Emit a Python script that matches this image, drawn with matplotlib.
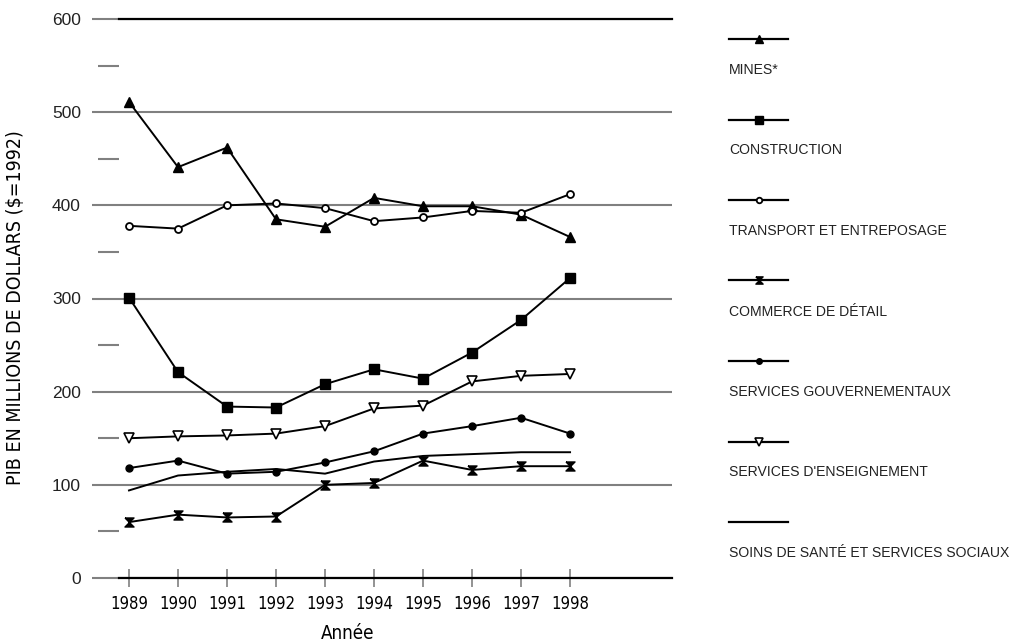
import matplotlib
matplotlib.use("Agg")
import matplotlib.pyplot as plt
from matplotlib.lines import Line2D
import numpy as np

annees = [1989, 1990, 1991, 1992, 1993, 1994, 1995, 1996, 1997, 1998]

mines = [511, 441, 462, 385, 377, 408, 399, 399, 390, 366]
construction = [301, 221, 184, 183, 208, 224, 214, 242, 277, 322]
transport = [378, 375, 400, 402, 397, 383, 387, 394, 392, 412]
commerce = [60, 68, 65, 66, 100, 102, 126, 116, 120, 120]
gouvernement = [118, 126, 112, 114, 124, 136, 155, 163, 172, 155]
enseignement = [150, 152, 153, 155, 163, 182, 185, 211, 217, 219]
sante = [94, 110, 114, 117, 112, 125, 131, 133, 135, 135]

noms = ["MINES*", "CONSTRUCTION", "TRANSPORT ET ENTREPOSAGE",
        "COMMERCE DE DÉTAIL", "SERVICES GOUVERNEMENTAUX",
        "SERVICES D'ENSEIGNEMENT", "SOINS DE SANTÉ ET SERVICES SOCIAUX"]
series = [mines, construction, transport, commerce, gouvernement, enseignement, sante]

# sablier (marqueur commerce)
sablier = [(-1, 1), (1, 1), (-1, -1), (1, -1), (-1, 1)]

styles = [
    dict(marker="^", ms=7, mfc="black"),
    dict(marker="s", ms=7, mfc="black"),
    dict(marker="o", ms=5, mfc="white", mew=1.3),
    dict(marker=sablier, ms=6.5, mfc="black"),
    dict(marker="o", ms=5, mfc="black"),
    dict(marker="v", ms=6.5, mfc="white", mew=1.2),
    dict(marker="None"),
]

gris = "#808080"
etroit = dict(family=["Liberation Sans Narrow", "DejaVu Sans"], stretch="condensed")

fig = plt.figure(figsize=(10.19, 6.43), dpi=100)
ax = fig.add_axes([119/1019, 65/643, 553/1019, 559/643])

for vals, st in zip(series, styles):
    ax.plot(annees, vals, color="black", lw=1.4, mec="black", **st)

ax.set_xlim(1988.796, 2000.08)
ax.set_ylim(0, 600)

ax.set_yticks(range(0, 601, 100))
ax.set_yticks(range(50, 600, 100), minor=True)
ax.yaxis.grid(True, which="major", color=gris, lw=1.5)
ax.set_axisbelow(True)
ax.tick_params(axis="y", which="major", direction="out", length=19.4, width=1.5,
               color=gris, pad=8, labelsize=12.5)
ax.tick_params(axis="y", which="minor", direction="out", length=15, width=1.5,
               color=gris)
for lab in ax.get_yticklabels():
    lab.set_family(["Liberation Sans", "DejaVu Sans"])
    lab.set_color("#222222")

ax.set_xticks(annees)
ax.tick_params(axis="x", direction="inout", length=13, width=1.2, color=gris, pad=6)
for lab in ax.get_xticklabels():
    lab.set_fontsize(12)
    lab.set_family(etroit["family"])
    lab.set_stretch("condensed")

for s in ["left", "right"]:
    ax.spines[s].set_visible(False)
ax.spines["top"].set_linewidth(1.6)
ax.spines["bottom"].set_linewidth(1.6)

ax.set_xlabel("Année", fontsize=13.5, **etroit)
ax.xaxis.set_label_coords(0.414, -0.082)
ax.set_ylabel("PIB EN MILLIONS DE DOLLARS ($=1992)", fontsize=14, **etroit)
ax.yaxis.set_label_coords(-0.17, 0.484)

# légende manuelle : trait au-dessus, texte au-dessous
x0, x1 = 729/1019, 788/1019
for i, (nom, st) in enumerate(zip(noms, styles)):
    yl = 1 - (39 + 80.5*i)/643
    yt = 1 - (70 + 80.5*i)/643
    fig.add_artist(Line2D([x0, x1], [yl, yl], color="black", lw=1.6,
                          transform=fig.transFigure))
    st2 = dict(st)
    if st2.get("marker") != "None":
        st2["ms"] = st2["ms"] * 0.8
        fig.add_artist(Line2D([(x0+x1)/2], [yl], transform=fig.transFigure, ls="none",
                              mec="black", **st2))
    fig.text(x0, yt, nom, fontsize=10.1, va="center", ha="left", color="#222222",
             family=["Liberation Sans", "DejaVu Sans"])

fig.savefig("out.png", dpi=100)
